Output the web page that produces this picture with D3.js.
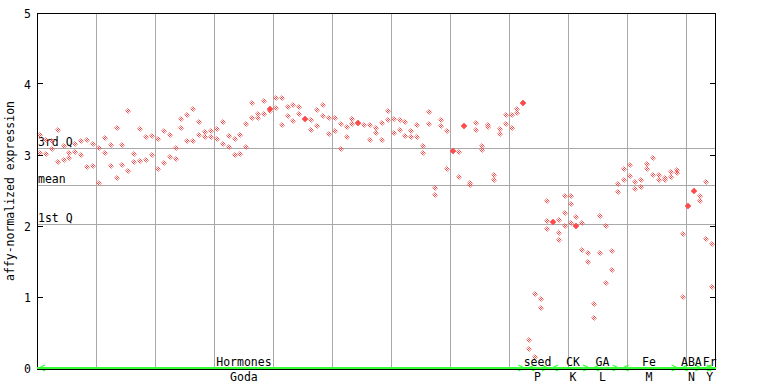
<!DOCTYPE html>
<html><head><meta charset="utf-8">
<script src="https://cdn.jsdelivr.net/npm/d3@7"></script>
<style>
body{margin:0;background:#fff}
text{font-family:"DejaVu Sans Mono",monospace;font-size:11.5px;fill:#000}
</style>
</head><body>
<svg id="chart" width="768" height="384"></svg>
<script>
// replicate expression values per sample (sample order as in the chart)
const expression = [
[3.291,3.041],[3.220,3.023],[3.206,3.089],[3.357,2.914],[3.140,2.938],
[3.041,2.970],[3.164,3.051],[3.202,3.004],[3.216,2.835],[3.164,2.849],
[3.103,2.609],[3.244,3.032],[3.146,2.849],[3.386,2.679],[3.150,2.863],
[3.626,2.782],[3.018,2.910],[3.371,2.924],[3.258,2.934],[3.277,3.004],
[3.230,2.806],[3.343,2.895],[3.291,2.980],[3.103,2.948],[3.517,3.386],
[3.569,3.202],[3.654,3.202],[3.470,3.287],[3.329,3.258],[3.343,3.258],
[3.376,3.230],[3.470,3.160],[3.273,3.117],[3.230,3.004],[3.287,3.018],
[3.442,3.117],[3.739,3.527],[3.583,3.527],[3.767,3.583],[3.660,3.648,3.626],
[3.809,3.668],[3.809,3.428],[3.682,3.555],[3.710,3.484],[3.682,3.583],
[3.528,3.514],[3.499,3.357],[3.640,3.414],[3.710,3.555],[3.527,3.301],
[3.527,3.343],[3.442,3.089],[3.400,3.258],[3.513,3.442],[3.463,3.449],
[3.428],[3.428,3.216],[3.386,3.315],[3.456,3.216],[3.626,3.499],
[3.513,3.315],[3.499,3.357],[3.470,3.273],[3.343,3.258],[3.428,3.258],
[3.131,3.032],[3.612,3.442],[2.538,2.439],[3.499,3.414],[3.343,2.806],
[3.078,3.060],[3.047,2.694],[3.427,3.409],[2.609,2.581],[3.456,3.357],
[3.131,3.075],[3.428,3.400],[2.722,2.651],[3.371,3.301],[3.569,3.442],
[3.569,3.386],[3.654,3.597],[3.740,3.727],[0.405,0.268],[1.055,0.165],
[0.984,0.857],[2.354,2.072,1.959],[2.073,2.060],[2.086,1.903,1.804],[2.425,2.185,2.001],
[2.425,2.312,2.044],[2.129,2.017,2.004],[2.044,1.662],[1.620,1.507],[0.914,0.716],
[2.143,1.620],[2.001,1.210],[1.648,1.394],[2.595,2.482],[2.806,2.651],
[2.863,2.708],[2.623,2.524],[2.651,2.552],[2.877,2.806],[2.962,2.722],
[2.722,2.651],[2.679,2.651],[2.764,2.694],[2.792,2.750],[1.888,1.013],
[2.299,2.286],[2.511,2.497],[2.425,2.354],[2.623,1.818],[1.747,1.154]
];
// experiment groups along the x axis
const groupNames  = ["Hormones","seed","CK","GA","Fe","ABA","Fr"];
const groupSubs   = ["Goda","P","K","L","M","N","Y"];
const groupStarts = [0,83,87,94,99,109,113];
const groupEnds   = [82,86,93,98,108,112,114];
const groupLabelAt = [34.6,84.4,90.4,95.4,103.3,110.5,113.6];
// axis / reference values
const yTicks = [0,1,2,3,4,5];
const refLabels = ["3rd Q","mean","1st Q"];
const refValues = [3.10,2.58,2.03];
const yTitle = "affy-normalized expression";
const gridEvery = 10;

const svg = d3.select("#chart");
const L=37, R=715, T=13.5, B=368.5;
const n = expression.length;
const x = d3.scaleBand().domain(d3.range(n)).range([L,R]).paddingInner(0).paddingOuter(0);
const y = d3.scaleLinear().domain([0,5]).range([B,T]);
const cx = i => x(i)+x.bandwidth()/2;
const px = v => Math.round(v)+0.5;

const RED = "#ff4a4a", GRID="#a8a8a8", GREEN="#33ff33";

const defs = svg.append("defs");
const pat = defs.append("pattern").attr("id","chk").attr("width",2).attr("height",2)
  .attr("patternUnits","userSpaceOnUse");
pat.append("rect").attr("x",0).attr("y",0).attr("width",1).attr("height",1).attr("fill",RED);
pat.append("rect").attr("x",1).attr("y",1).attr("width",1).attr("height",1).attr("fill",RED);

// vertical grid lines every 10 samples
const gx = d3.range(gridEvery, n, gridEvery);
svg.append("g").selectAll("line").data(gx).join("line")
  .attr("x1",d=>px(x(d))).attr("x2",d=>px(x(d)))
  .attr("y1",T).attr("y2",B).attr("stroke",GRID).attr("stroke-width",1);

// reference lines
svg.append("g").selectAll("line").data(refValues).join("line")
  .attr("x1",L).attr("x2",R).attr("y1",d=>px(y(d))).attr("y2",d=>px(y(d)))
  .attr("stroke",GRID).attr("stroke-width",1);
svg.append("g").selectAll("text").data(refLabels).join("text")
  .attr("x",L+1).attr("y",(d,i)=>Math.round(y(refValues[i]))-2)
  .text(d=>d);

// points
const pts = [];
expression.forEach((vals,i)=>{
  const s = vals.slice().sort((a,b)=>b-a);
  for(let k=0;k<s.length;k++){
    if(k+1<s.length && Math.abs(s[k]-s[k+1])<0.02){
      pts.push({i, v:(s[k]+s[k+1])/2, solid:true}); k++;
    } else pts.push({i, v:s[k], solid:false});
  }
});
const dia = "M0,-3L3,0L0,3L-3,0Z";
svg.append("g").selectAll("path").data(pts).join("path")
  .attr("d",dia)
  .attr("transform",d=>`translate(${Math.round(cx(d.i))},${Math.round(y(d.v))})`)
  .attr("fill",d=>d.solid?RED:"url(#chk)")
  .attr("stroke",d=>d.solid?RED:"none")
  .attr("stroke-width",0.6);

// frame
const frame = svg.append("g").attr("stroke","#000").attr("stroke-width",1).attr("fill","none");
frame.append("line").attr("x1",L+0.5).attr("x2",L+0.5).attr("y1",T).attr("y2",B+1);
frame.append("line").attr("x1",R+0.5).attr("x2",R+0.5).attr("y1",T).attr("y2",B+1);
frame.append("line").attr("x1",L).attr("x2",R+1).attr("y1",T).attr("y2",T);

// y ticks (inward on both sides)
const yt = svg.append("g");
yt.selectAll("line.l").data(yTicks).join("line").attr("class","l")
  .attr("x1",L).attr("x2",L+6).attr("y1",d=>px(y(d))-1).attr("y2",d=>px(y(d))-1)
  .attr("stroke","#000");
yt.selectAll("line.r").data(yTicks).join("line").attr("class","r")
  .attr("x1",R-5).attr("x2",R+1).attr("y1",d=>px(y(d))-1).attr("y2",d=>px(y(d))-1)
  .attr("stroke","#000");
yt.selectAll("text").data(yTicks).join("text")
  .attr("x",31).attr("y",d=>y(d)+4).attr("text-anchor","end").text(d=>d);

// y title
svg.append("text").attr("transform",`translate(14,${(T+B)/2}) rotate(-90)`)
  .attr("text-anchor","middle").text(yTitle);

// bottom group bar
const gb = svg.append("g");
gb.append("line").attr("x1",L).attr("x2",R+1).attr("y1",368).attr("y2",368)
  .attr("stroke",GREEN).attr("stroke-width",2);
groupStarts.forEach((s,g)=>{
  const x0 = x(s)+2, x1 = x(groupEnds[g])+x.bandwidth()-2;
  gb.append("path").attr("d",`M${x0+6},365L${x0},368L${x0+6},371`)
    .attr("stroke",GREEN).attr("fill","none").attr("stroke-width",1.2);
  gb.append("path").attr("d",`M${x1-6},365L${x1},368L${x1-6},371`)
    .attr("stroke",GREEN).attr("fill","none").attr("stroke-width",1.2);
});
gb.append("line").attr("x1",L).attr("x2",R+1).attr("y1",369.5).attr("y2",369.5)
  .attr("stroke","#000").attr("stroke-width",1);
const lab = svg.append("g");
lab.selectAll("text.t").data(groupNames).join("text").attr("class","t")
  .attr("x",(d,g)=>cx(0)+groupLabelAt[g]*x.step()).attr("y",366)
  .attr("text-anchor","middle").text(d=>d);
lab.selectAll("text.b").data(groupSubs).join("text").attr("class","b")
  .attr("x",(d,g)=>cx(0)+groupLabelAt[g]*x.step()).attr("y",381)
  .attr("text-anchor","middle").text(d=>d);
</script>
</body></html>
